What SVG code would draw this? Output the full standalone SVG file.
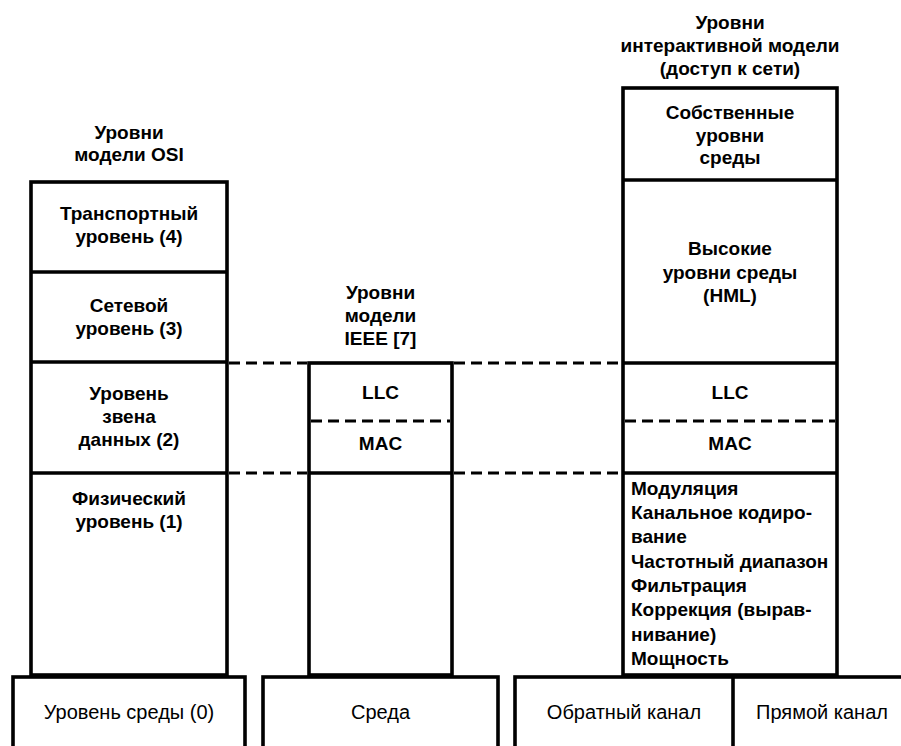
<svg xmlns="http://www.w3.org/2000/svg" width="901" height="746" viewBox="0 0 901 746">
<style>
.box{fill:#fff;stroke:#000;stroke-width:3.6}
.sep{stroke:#000;stroke-width:3.6}
.dash{stroke:#000;stroke-width:2.8;stroke-dasharray:11 6;fill:none}
text{font-family:"Liberation Sans",Arial,sans-serif;font-size:19px;font-weight:bold;fill:#000}
.c{text-anchor:middle}
.r{font-weight:normal;font-size:20px}
</style>
<rect width="901" height="746" fill="#fff"/>
<g id="osi">
<rect class="box" x="31" y="182" width="196" height="493"/>
<line class="sep" x1="31" y1="272" x2="227" y2="272"/>
<line class="sep" x1="31" y1="362" x2="227" y2="362"/>
<line class="sep" x1="31" y1="473" x2="227" y2="473"/>
<text class="c" x="129" y="139">Уровни</text>
<text class="c" x="129" y="161">модели OSI</text>
<text class="c" x="129" y="220">Транспортный</text>
<text class="c" x="129" y="243">уровень (4)</text>
<text class="c" x="129" y="312">Сетевой</text>
<text class="c" x="129" y="335">уровень (3)</text>
<text class="c" x="129" y="400">Уровень</text>
<text class="c" x="129" y="423">звена</text>
<text class="c" x="129" y="446">данных (2)</text>
<text class="c" x="129" y="505">Физический</text>
<text class="c" x="129" y="528">уровень (1)</text>
</g>
<g id="ieee">
<rect class="box" x="309" y="363" width="143" height="312"/>
<line class="dash" x1="311" y1="421" x2="450" y2="421"/>
<line class="sep" x1="309" y1="473" x2="452" y2="473"/>
<text class="c" x="380.5" y="299">Уровни</text>
<text class="c" x="380.5" y="322">модели</text>
<text class="c" x="380.5" y="345">IEEE [7]</text>
<text class="c" x="380.5" y="399">LLC</text>
<text class="c" x="380.5" y="450">MAC</text>
</g>
<g id="interactive">
<rect class="box" x="623" y="88" width="214" height="587"/>
<line class="sep" x1="623" y1="180" x2="837" y2="180"/>
<line class="sep" x1="623" y1="363" x2="837" y2="363"/>
<line class="dash" x1="625" y1="421" x2="835" y2="421"/>
<line class="sep" x1="623" y1="473" x2="837" y2="473"/>
<text class="c" x="730" y="29">Уровни</text>
<text class="c" x="730" y="52">интерактивной модели</text>
<text class="c" x="730" y="75">(доступ к сети)</text>
<text class="c" x="730" y="119">Собственные</text>
<text class="c" x="730" y="142">уровни</text>
<text class="c" x="730" y="164">среды</text>
<text class="c" x="730" y="255">Высокие</text>
<text class="c" x="730" y="279">уровни среды</text>
<text class="c" x="730" y="302">(HML)</text>
<text class="c" x="730" y="399">LLC</text>
<text class="c" x="730" y="450">MAC</text>
<text x="631" y="495">Модуляция</text>
<text x="631" y="519">Канальное кодиро-</text>
<text x="631" y="543">вание</text>
<text x="631" y="568">Частотный диапазон</text>
<text x="631" y="592">Фильтрация</text>
<text x="631" y="616">Коррекция (вырав-</text>
<text x="631" y="641">нивание)</text>
<text x="631" y="665">Мощность</text>
</g>
<g id="medium0">
<rect class="box" x="13" y="677" width="232" height="80"/>
<text class="c r" x="129" y="719">Уровень среды (0)</text>
</g>
<g id="medium">
<rect class="box" x="263" y="677" width="235" height="80"/>
<text class="c r" x="380.5" y="719">Среда</text>
</g>
<g id="channels">
<rect class="box" x="515" y="677" width="400" height="80"/>
<line class="sep" x1="733" y1="677" x2="733" y2="746"/>
<text class="c r" x="624" y="719">Обратный канал</text>
<text class="c r" x="822" y="719">Прямой канал</text>
</g>
<g id="connectors">
<line class="dash" x1="229" y1="363" x2="307" y2="363"/>
<line class="dash" x1="454" y1="363" x2="621" y2="363"/>
<line class="dash" x1="229" y1="473" x2="307" y2="473"/>
<line class="dash" x1="454" y1="473" x2="621" y2="473"/>
</g>
</svg>
